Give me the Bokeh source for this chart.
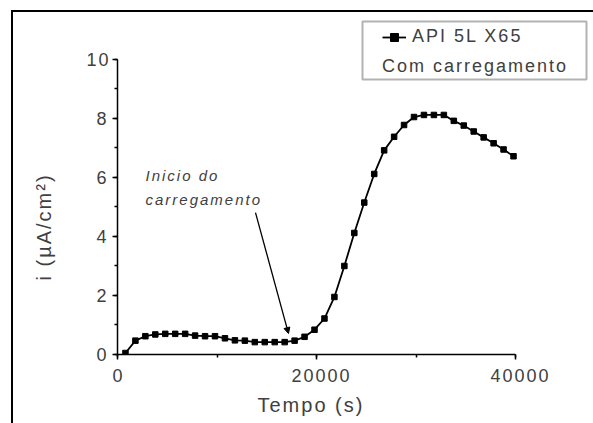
from bokeh.plotting import figure
from bokeh.models import (Range1d, SingleIntervalTicker, Legend, LegendItem,
                          BoxAnnotation, Arrow, NormalHead, Label, Title)
from bokeh.embed import file_html
from bokeh.resources import INLINE

# Corrosion current density vs. time (API 5L X65, with loading)
tempo_s = [800, 1800, 2800, 3800, 4800, 5800, 6800, 7800, 8800, 9800,
           10800, 11800, 12800, 13800, 14800, 15800, 16800, 17800, 18800, 19800,
           20800, 21800, 22800, 23800, 24800, 25800, 26800, 27800, 28800, 29800,
           30800, 31800, 32800, 33800, 34800, 35800, 36800, 37800, 38800, 39800]
corrente = [0.05, 0.47, 0.62, 0.68, 0.70, 0.70, 0.70, 0.64, 0.62, 0.62,
            0.55, 0.48, 0.47, 0.42, 0.42, 0.42, 0.42, 0.47, 0.60, 0.84,
            1.22, 1.95, 3.00, 4.12, 5.15, 6.12, 6.92, 7.38, 7.78, 8.05,
            8.12, 8.12, 8.12, 7.92, 7.76, 7.56, 7.36, 7.16, 6.95, 6.72]

x_titulo = "Tempo (s)"
y_titulo = "i (\u00b5A/cm\u00b2)"
serie_label = "API 5L X65"
serie_sub = "Com carregamento"
nota_linhas = ["Inicio do", "carregamento"]

FONT = "Liberation Sans"
TXT = "#404040"

# the frame reaches to the page's right/top edge so the legend box fits in it;
# the axes themselves stop at 40000 s and 10 uA/cm2
p = figure(width=593, height=423, output_backend="svg", toolbar_location=None,
           x_range=Range1d(0, 47839), y_range=Range1d(0, 11.593),
           min_border_left=117, min_border_right=0, min_border_top=12, min_border_bottom=69,
           background_fill_color="white", border_fill_color=None)
p.outline_line_color = None
p.grid.visible = False
# page frame lines (left and top) painted behind the transparent canvas border
p.styles = {"background-color": "white",
            "background-image": "linear-gradient(#000, #000), linear-gradient(#000, #000)",
            "background-size": "2px calc(100% - 10px), calc(100% - 11px) 2px",
            "background-position": "11px 10px, 11px 10px",
            "background-repeat": "no-repeat",
            "letter-spacing": "2px"}

# axes
p.xaxis.ticker = SingleIntervalTicker(interval=20000, num_minor_ticks=2)
p.yaxis.ticker = SingleIntervalTicker(interval=2, num_minor_ticks=2)
p.xaxis.bounds = (0, 40000)
p.yaxis.bounds = (0, 10)
for ax in (p.xaxis[0], p.yaxis[0]):
    ax.axis_line_color = "black"
    ax.axis_line_width = 1.5
    ax.major_tick_line_color = "black"
    ax.minor_tick_line_color = "black"
    ax.major_tick_line_width = 1.5
    ax.minor_tick_line_width = 1.5
    ax.major_tick_in = 0
    ax.major_tick_out = 5
    ax.minor_tick_in = 0
    ax.minor_tick_out = 3
    ax.major_label_text_font = FONT
    ax.major_label_text_font_size = "18px"
    ax.major_label_text_color = TXT
p.xaxis.major_label_standoff = 9
p.yaxis.major_label_standoff = 6

# axis titles, placed along the 0-40000 / 0-10 spans of the axes
p.add_layout(Title(text=x_titulo, align="left", offset=140, standoff=14,
                   text_font=FONT, text_font_size="20px", text_font_style="normal",
                   text_color=TXT), "below")
p.add_layout(Title(text=y_titulo, align="left", offset=74, standoff=57,
                   text_font=FONT, text_font_size="20px", text_font_style="normal",
                   text_color=TXT), "left")

# series
line_r = p.line(tempo_s, corrente, line_color="black", line_width=1.8)
pts_r = p.scatter(tempo_s, corrente, marker="square", size=5.5,
                  fill_color="black", line_color="black")

# legend (frame drawn separately so the content can sit inset)
leg = Legend(items=[LegendItem(label=serie_label, renderers=[line_r, pts_r])],
             location=(265, 277), title=serie_sub, title_location="below",
             padding=0, spacing=0, margin=0,
             border_line_alpha=0, background_fill_alpha=0,
             glyph_width=24, glyph_height=20, label_height=20, label_standoff=6,
             label_text_font=FONT, label_text_font_size="18px", label_text_color=TXT,
             title_text_font=FONT, title_text_font_size="18px", title_text_color=TXT,
             title_text_font_style="normal", title_standoff=9)
p.add_layout(leg)
p.add_layout(BoxAnnotation(left=24623, right=47136, top=11.288, bottom=9.322,
                           fill_alpha=0, line_color="black", line_width=2))

# annotation for the start of loading
for txt, yy in zip(nota_linhas, [6.07, 5.25]):
    p.add_layout(Label(x=2814, y=yy, text=txt, text_font=FONT, text_font_size="15px",
                       text_font_style="italic", text_color=TXT, text_baseline="middle"))
p.add_layout(Arrow(end=NormalHead(size=6, fill_color="black", line_color="black"),
                   x_start=13869, y_start=4.81, x_end=17186, y_end=0.71,
                   line_color="black", line_width=1.3))

open("out.html", "w").write(file_html(p, INLINE))
